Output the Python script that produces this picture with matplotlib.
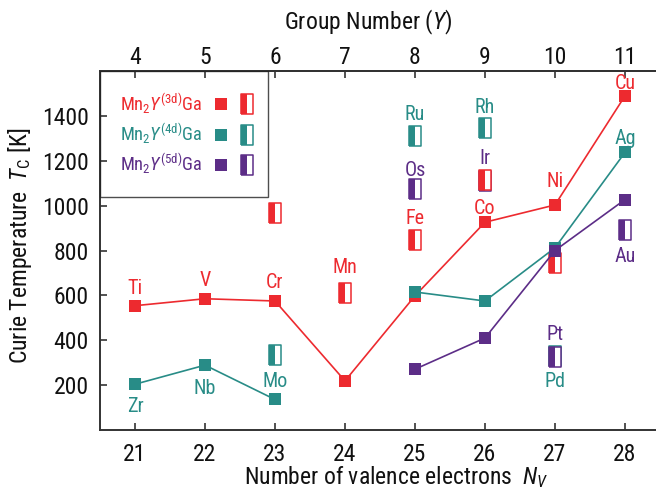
import matplotlib
matplotlib.use('Agg')
import matplotlib.pyplot as plt
from matplotlib.lines import Line2D
from matplotlib.legend_handler import HandlerTuple

FONT = ['Roboto Condensed', 'DejaVu Sans']
plt.rcParams['font.family'] = FONT
plt.rcParams['mathtext.fontset'] = 'custom'
plt.rcParams['mathtext.rm'] = 'Roboto Condensed'
plt.rcParams['mathtext.it'] = 'Roboto Condensed:italic'
plt.rcParams['mathtext.bf'] = 'Roboto Condensed:bold'
plt.rcParams['mathtext.sf'] = 'Roboto Condensed'

# ---------------- data ----------------
nv_ticks = [21, 22, 23, 24, 25, 26, 27, 28]
group_ticks = [4, 5, 6, 7, 8, 9, 10, 11]
tc_ticks = [200, 400, 600, 800, 1000, 1200, 1400]

# filled squares (connected)
nv_3d = [21, 22, 23, 24, 25, 26, 27, 28]
tc_3d = [554, 585, 575, 219, 598, 926, 1003, 1489]
nv_4d_a = [21, 22, 23]
tc_4d_a = [204, 289, 136]
nv_4d_b = [25, 26, 27, 28]
tc_4d_b = [615, 575, 812, 1237]
nv_5d = [25, 26, 27, 28]
tc_5d = [271, 410, 800, 1027]

# half-filled rectangles
nv_3d_half = [23, 24, 25, 26, 27]
tc_3d_half = [967, 612, 849, 1116, 746]
nv_4d_half = [23, 25, 26, 27]
tc_4d_half = [333, 1311, 1348, 332]
nv_5d_half = [25, 26, 27, 28]
tc_5d_half = [1074, 1109, 325, 893]

# element labels (name, nv, baseline T)
names_3d = ['Ti', 'V', 'Cr', 'Mn', 'Fe', 'Co', 'Ni', 'Cu']
lab_nv_3d = [21, 22, 23, 24, 25, 26, 27, 28]
lab_tc_3d = [604, 640, 631, 698, 916, 964, 1084, 1520]
names_4d = ['Zr', 'Nb', 'Mo', 'Ru', 'Rh', 'Pd', 'Ag']
lab_nv_4d = [21, 22, 23, 25, 26, 27, 28]
lab_tc_4d = [80, 160, 191, 1382, 1413, 192, 1276]
names_5d = ['Os', 'Ir', 'Pt', 'Au']
lab_nv_5d = [25, 26, 27, 28]
lab_tc_5d = [1133, 1187, 400, 747]

RED = '#ED2A2F'
TEAL = '#288C87'
PURPLE = '#5C2D87'
INK = '#111111'

SQ_MS = 8.3
RECT_MS = 14.6
rect_outline = [(-0.63, -1), (0.63, -1), (0.63, 1), (-0.63, 1), (-0.63, -1)]
rect_left = [(-0.63, -1), (0.0, -1), (0.0, 1), (-0.63, 1), (-0.63, -1)]

fig = plt.figure(figsize=(6.56, 4.91), dpi=100)
ax = fig.add_axes([100 / 656, 1 - 430 / 491, 1 - 100 / 656, (430 - 71) / 491])
ax.set_xlim(20.5, 28.443)
ax.set_ylim(0, 1600)


def half_rects(nv, tc, color, z):
    o = ax.plot(nv, tc, linestyle='none', marker=rect_outline, markersize=RECT_MS,
                markerfacecolor='white', markeredgecolor=color, markeredgewidth=1.1,
                zorder=z)[0]
    h = ax.plot(nv, tc, linestyle='none', marker=rect_left, markersize=RECT_MS,
                markerfacecolor=color, markeredgewidth=0, zorder=z + 0.01)[0]
    return o, h


def filled(nv, tc, color, z):
    return ax.plot(nv, tc, color=color, linewidth=1.2, marker='s', markersize=SQ_MS,
                   markerfacecolor=color, markeredgewidth=0, zorder=z)[0]


h4 = half_rects(nv_4d_half, tc_4d_half, TEAL, 3.0)
h5 = half_rects(nv_5d_half, tc_5d_half, PURPLE, 3.1)
h3 = half_rects(nv_3d_half, tc_3d_half, RED, 3.2)

filled(nv_3d, tc_3d, RED, 4.0)
filled(nv_4d_a, tc_4d_a, TEAL, 4.1)
filled(nv_4d_b, tc_4d_b, TEAL, 4.1)
filled(nv_5d, tc_5d, PURPLE, 4.2)

for names, xs, ys, c in [(names_3d, lab_nv_3d, lab_tc_3d, RED),
                         (names_4d, lab_nv_4d, lab_tc_4d, TEAL),
                         (names_5d, lab_nv_5d, lab_tc_5d, PURPLE)]:
    for n, x, y in zip(names, xs, ys):
        ax.text(x, y, n, color=c, fontsize=14.5, ha='center', va='baseline', zorder=6)

# axes styling
SPC = '#333333'
for s in ['left', 'bottom', 'top']:
    ax.spines[s].set_color(SPC)
    ax.spines[s].set_linewidth(1.4)
ax.spines['right'].set_visible(False)

ax.set_xticks(nv_ticks)
ax.set_xticklabels([str(v) for v in nv_ticks])
ax.set_yticks(tc_ticks)
ax.set_yticklabels([str(v) for v in tc_ticks])
ax.tick_params(axis='both', direction='in', length=5, width=1.2, color=SPC,
               labelsize=17, labelcolor=INK)
ax.tick_params(axis='x', pad=9.5)
ax.tick_params(axis='y', pad=8)

sec = ax.secondary_xaxis('top', functions=(lambda x: x - 17, lambda x: x + 17))
sec.set_xticks(group_ticks)
sec.set_xticklabels([str(v) for v in group_ticks])
sec.tick_params(direction='in', length=5, width=1.2, color=SPC, labelsize=17,
                labelcolor=INK, pad=1.5)
sec.spines['top'].set_color(SPC)
sec.spines['top'].set_linewidth(1.4)
sec.set_xlabel(r'Group Number ($\mathit{Y}$)', fontsize=17, color=INK)
sec.xaxis.label.set_va('center')
sec.xaxis.set_label_coords(368 / 656, 1 - 22 / 491, transform=fig.transFigure)

ax.set_xlabel(r'Number of valence electrons  $N_V$', fontsize=17, color=INK)
ax.xaxis.label.set_va('center')
ax.xaxis.set_label_coords(396 / 656, 1 - 477 / 491, transform=fig.transFigure)
ax.set_ylabel(r'Curie Temperature  $T_\mathrm{C}$ [K]', fontsize=17, color=INK)
ax.yaxis.label.set_va('center')
ax.yaxis.set_label_coords(20 / 656, 1 - 246 / 491, transform=fig.transFigure)

# legend
leg_sq = [Line2D([], [], linestyle='none', marker='s', markersize=SQ_MS,
                 markerfacecolor=c, markeredgewidth=0) for c in (RED, TEAL, PURPLE)]


class Overlay(tuple):
    pass


LEG_FS = 13.2
handles = [(leg_sq[0], Overlay(h3)), (leg_sq[1], Overlay(h4)), (leg_sq[2], Overlay(h5))]
labels = [r'Mn$_2$$Y^{\mathrm{(3d)}}$Ga', r'Mn$_2$$Y^{\mathrm{(4d)}}$Ga',
          r'Mn$_2$$Y^{\mathrm{(5d)}}$Ga']
leg = ax.legend(handles, labels,
                handler_map={Overlay: HandlerTuple(ndivide=1, pad=0),
                             tuple: HandlerTuple(ndivide=None, pad=17.3 / LEG_FS)},
                loc='upper left', bbox_to_anchor=(0, 1), borderaxespad=0,
                markerfirst=False, fontsize=LEG_FS, handlelength=20.2 / LEG_FS,
                handletextpad=12.2 / LEG_FS,
                labelspacing=0.32, borderpad=1.1, frameon=True, fancybox=False,
                edgecolor='#222222', facecolor='none', labelcolor=[RED, TEAL, PURPLE])
leg.get_frame().set_linewidth(1.0)

fig.savefig('out.png', dpi=100)
